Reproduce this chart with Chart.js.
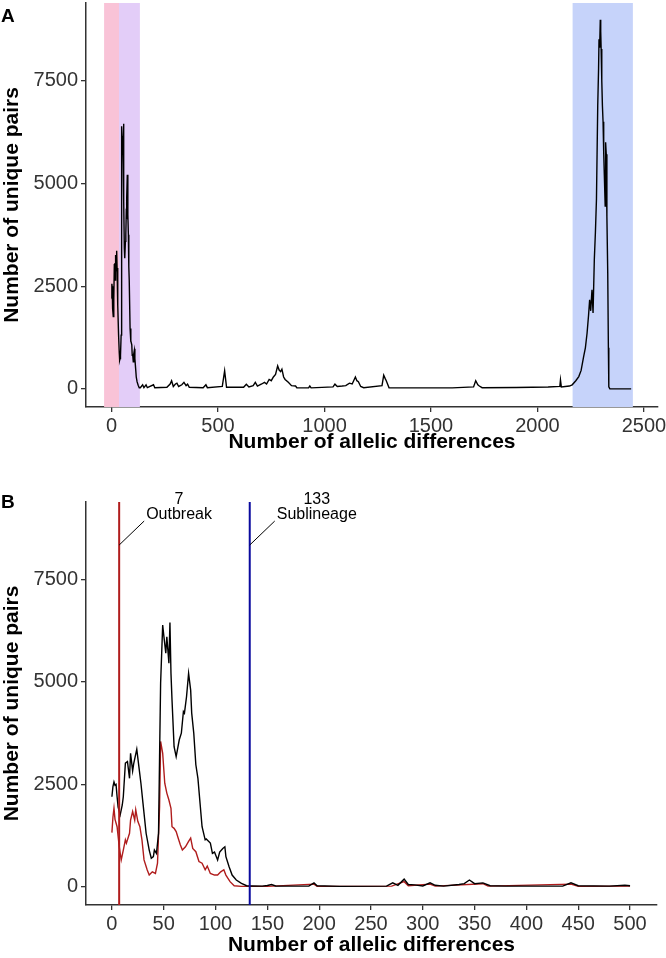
<!DOCTYPE html>
<html>
<head>
<meta charset="utf-8">
<script src="https://cdn.jsdelivr.net/npm/chart.js@4.4.1/dist/chart.umd.min.js"></script>
<style>
  body { margin: 0; background: #fff; }
  #wrapA { position: absolute; left: 0; top: 0; width: 666px; height: 455px; }
  #wrapB { position: absolute; left: 0; top: 455px; width: 666px; height: 503px; }
</style>
</head>
<body>
<div id="wrapA"><canvas id="chartA" width="666" height="455"></canvas></div>
<div id="wrapB"><canvas id="chartB" width="666" height="503"></canvas></div>
<script>
// panel B, all pairs (black)
var allX = [0,1,2,3,4,5,6,8,10,11,13,15,17,18,20,21,24,26,28,30,33,36,38,40,41,43,45,46,47,49,50,52,53,55,56,57,58,60,62,65,67,69,70,72,74,76,77,79,81,83,87,90,91,95,97,99,102,104,107,109,110,113,116,120,125,130,135,145,150,154,158,170,190,195,198,220,265,271,276,282,286,292,300,307,312,320,335,340,345,350,358,365,380,435,443,450,480,495,500];
var allY = [2200,2450,2560,2480,2500,2200,1950,1760,2000,2200,3020,3060,2650,3260,2830,3000,3360,2940,2530,2040,1310,900,700,740,900,820,1310,3180,4970,6390,6150,5700,6100,5460,6450,5210,4560,3420,3180,3590,3750,4280,4240,4640,5210,4800,4240,3750,2980,2650,1470,1150,1170,1070,820,850,660,850,940,980,740,500,290,170,90,30,25,20,35,60,25,20,20,100,30,15,20,100,40,190,60,50,25,100,40,20,60,80,170,80,100,30,20,20,100,30,20,40,30];

// panel B, subset pairs (red)
var subX = [0,1,2,3,5,7,8,9,11,13,14,16,17,18,20,22,23,25,27,29,31,34,36,39,42,44,46,47,49,51,53,55,57,58,60,62,64,66,68,71,74,76,78,81,84,87,90,92,95,99,102,105,108,110,114,118,125,150,195,198,270,282,286,307,312,358,363,443,450,500];
var subY = [1325,1700,1920,1650,1470,1000,820,660,900,1150,1070,1230,1310,1630,1840,1630,1880,1600,1470,1150,660,420,290,370,330,580,1960,3550,3260,2530,2290,2120,1920,1470,1430,1350,1190,1030,900,980,1110,1190,940,860,620,580,420,510,330,290,290,370,420,290,130,30,15,15,70,15,20,130,30,70,20,80,20,70,15,20];

// panel A, rest of the distribution past 130 differences
var farX = [135,146,152,162,168,197,203,260,275,282,290,300,307,315,330,340,350,357,365,430,443,450,520,531,540,620,633,645,665,675,685,705,718,728,740,750,760,770,780,787,794,800,808,815,830,845,864,870,925,931,937,1040,1049,1060,1083,1100,1117,1130,1145,1152,1159,1170,1184,1270,1278,1285,1290,1303,1400,1600,1700,1710,1720,1727,1740,1900,2050,2105,2108,2112,2150,2163,2180,2194,2205,2217,2225,2233,2240,2245,2250,2256,2261,2267,2272,2277,2283,2287,2289,2292,2295,2297,2299,2302,2305,2308,2311,2314,2318,2320,2323,2326,2330,2333,2335,2340,2440];
var farY = [30,100,30,100,30,100,30,40,120,200,60,120,140,60,100,160,80,115,40,30,100,30,60,440,40,40,115,50,80,160,70,120,160,120,230,200,290,350,560,460,420,480,290,230,160,80,70,30,25,70,25,50,115,60,70,80,140,120,290,200,176,60,30,80,335,250,200,30,25,25,50,200,100,70,30,35,45,60,220,50,70,100,200,300,450,790,1000,1360,1800,2170,1900,2410,1850,3150,3800,4610,6890,7800,8510,8300,8980,8700,8270,7500,6890,6500,5750,5200,4450,6000,5710,4200,2820,1000,50,0,0];

var bandStart = [-35, 35, 2165];
var bandEnd = [35, 133, 2448];
var bandColors = ['#f9c3d7', '#e3cdf8', '#c6d3fa'];

var thresholds = [7, 133];
var thresholdNames = ['Outbreak', 'Sublineage'];
var thresholdColors = ['#b01c1c', '#0a0a9e'];

var yTicks = [0, 2500, 5000, 7500];
var xTicksA = [0, 500, 1000, 1500, 2000, 2500];
var xTicksB = [0, 50, 100, 150, 200, 250, 300, 350, 400, 450, 500];

function pts(xs, ys, maxX) {
    var out = [];
    for (var i = 0; i < xs.length; i++) {
        if (maxX === undefined || xs[i] <= maxX) out.push({x: xs[i], y: ys[i]});
    }
    return out;
}

var tickFont = {family: 'Liberation Sans, Arial, sans-serif', size: 20};
var titleFont = {family: 'Liberation Sans, Arial, sans-serif', size: 21, weight: 'bold'};

function plain(v) { return String(v); }

function axes(xmin, xmax, xTicks, xHeight) {
    return {
        x: {
            type: 'linear', min: xmin, max: xmax,
            afterBuildTicks: function(s) { s.ticks = xTicks.map(function(v) { return {value: v}; }); },
            grid: {drawOnChartArea: false, drawTicks: true, tickLength: 5, color: '#333', lineWidth: 1.3},
            border: {display: true, color: '#333', width: 1.5},
            ticks: {font: tickFont, color: '#333', padding: 2, maxRotation: 0, autoSkip: false, callback: plain},
            title: {display: true, text: 'Number of allelic differences', font: titleFont, color: '#000', padding: {top: 0, bottom: 0}},
            afterFit: function(s) { s.height = xHeight; s.paddingLeft = 0; s.paddingRight = 0; }
        },
        y: {
            type: 'linear', min: -440, max: 9390,
            afterBuildTicks: function(s) { s.ticks = yTicks.map(function(v) { return {value: v}; }); },
            grid: {drawOnChartArea: false, drawTicks: true, tickLength: 5, color: '#333', lineWidth: 1.3},
            border: {display: true, color: '#333', width: 1.5},
            ticks: {font: tickFont, color: '#333', padding: 3, callback: plain},
            title: {display: true, text: 'Number of unique pairs', font: titleFont, color: '#000', padding: {top: 0, bottom: 2}},
            afterFit: function(s) { s.width = 86; s.paddingTop = 0; s.paddingBottom = 0; }
        }
    };
}

var bandsPlugin = {
    id: 'bands',
    beforeDatasetsDraw: function(chart) {
        if (!chart.options.plugins.bands.show) return;
        var ctx = chart.ctx, a = chart.chartArea, xs = chart.scales.x;
        ctx.save();
        for (var i = 0; i < bandStart.length; i++) {
            var x0 = xs.getPixelForValue(bandStart[i]);
            var x1 = xs.getPixelForValue(bandEnd[i]);
            ctx.fillStyle = bandColors[i];
            ctx.fillRect(x0, a.top, x1 - x0, a.bottom - a.top);
        }
        ctx.restore();
    }
};

var thresholdPlugin = {
    id: 'thresh',
    afterDatasetsDraw: function(chart) {
        if (!chart.options.plugins.thresh.show) return;
        var ctx = chart.ctx, a = chart.chartArea, xs = chart.scales.x, ys = chart.scales.y;
        ctx.save();
        for (var i = 0; i < thresholds.length; i++) {
            var px = xs.getPixelForValue(thresholds[i]);
            ctx.strokeStyle = thresholdColors[i];
            ctx.lineWidth = 2;
            ctx.beginPath();
            ctx.moveTo(px, a.top);
            ctx.lineTo(px, a.bottom);
            ctx.stroke();
            // leader line to the label
            var py = ys.getPixelForValue(8340);
            ctx.strokeStyle = '#000';
            ctx.lineWidth = 1;
            ctx.beginPath();
            ctx.moveTo(px, py);
            ctx.lineTo(px + 25, py - 24);
            ctx.stroke();
            ctx.fillStyle = '#000';
            ctx.font = '16px Liberation Sans, Arial, sans-serif';
            ctx.textBaseline = 'middle';
            var w = ctx.measureText(thresholdNames[i]).width;
            ctx.textAlign = 'left';
            ctx.fillText(thresholdNames[i], px + 27, py - 30);
            ctx.textAlign = 'center';
            ctx.fillText(String(thresholds[i]), px + 27 + w / 2, py - 45);
        }
        ctx.restore();
    }
};

var letterPlugin = {
    id: 'letter',
    afterDraw: function(chart) {
        var o = chart.options.plugins.letter;
        var ctx = chart.ctx;
        ctx.save();
        ctx.fillStyle = '#000';
        ctx.font = 'bold 19px Liberation Sans, Arial, sans-serif';
        ctx.textAlign = 'left';
        ctx.textBaseline = 'top';
        ctx.fillText(o.text, 1, o.y);
        ctx.restore();
    }
};

Chart.register(bandsPlugin, thresholdPlugin, letterPlugin);

new Chart(document.getElementById('chartA'), {
    type: 'line',
    data: {
        datasets: [{
            data: pts(allX, allY, 130).concat(pts(farX, farY)),
            borderColor: '#000', borderWidth: 1.4, pointRadius: 0, tension: 0
        }]
    },
    options: {
        responsive: false, animation: false,
        layout: {padding: {top: 3, right: 8, left: 0, bottom: 0}},
        scales: axes(-120, 2566, xTicksA, 48),
        plugins: {legend: {display: false}, tooltip: {enabled: false},
            bands: {show: true}, thresh: {show: false}, letter: {text: 'A', y: 7}}
    }
});

new Chart(document.getElementById('chartB'), {
    type: 'line',
    data: {
        datasets: [{
            data: pts(allX, allY),
            borderColor: '#000', borderWidth: 1.4, pointRadius: 0, tension: 0
        }, {
            data: pts(subX, subY),
            borderColor: '#b01c1c', borderWidth: 1.4, pointRadius: 0, tension: 0
        }]
    },
    options: {
        responsive: false, animation: false,
        layout: {padding: {top: 47, right: 9, left: 0, bottom: 0}},
        scales: axes(-25, 526, xTicksB, 53),
        plugins: {legend: {display: false}, tooltip: {enabled: false},
            bands: {show: false}, thresh: {show: true}, letter: {text: 'B', y: 38}}
    }
});
</script>
</body>
</html>
